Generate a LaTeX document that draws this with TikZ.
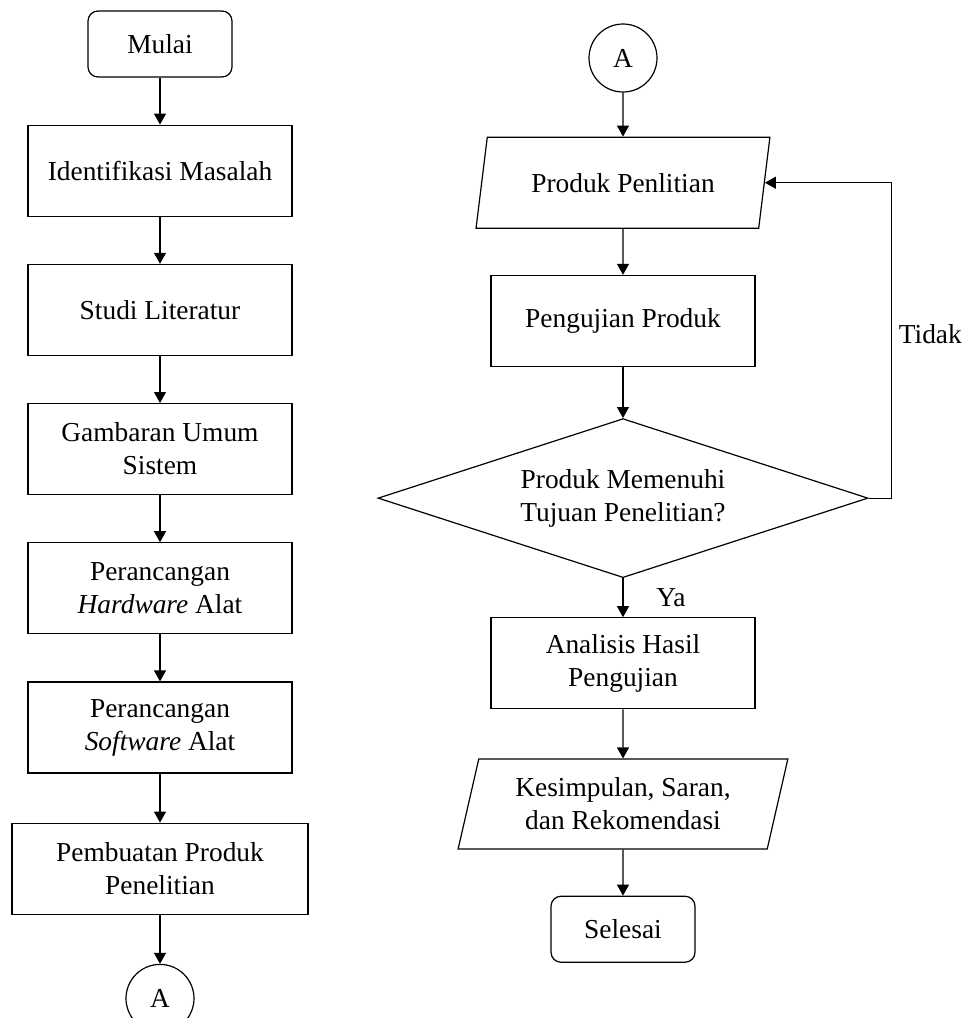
\documentclass[tikz,border=0pt]{standalone}
\usepackage{fontspec}
\setmainfont{Liberation Serif}
\usetikzlibrary{arrows.meta,positioning,shapes.geometric}

\begin{document}
\begin{tikzpicture}[
    font=\fontsize{13.7}{16.5}\selectfont,
    node distance=23.5pt,
    proses/.style={draw,line width=0.6pt,align=center,minimum width=132pt,minimum height=45.5pt},
    terminal/.style={draw,line width=0.6pt,rounded corners=5pt,align=center,minimum width=72pt,minimum height=33pt},
    masukan/.style={draw,line width=0.6pt,trapezium,trapezium left angle=76,trapezium right angle=104,trapezium stretches=true,align=center,minimum height=45.5pt},
    keputusan/.style={draw,line width=0.6pt,diamond,aspect=3.08,align=center,minimum width=245pt,minimum height=79.5pt,inner sep=0pt},
    konektor/.style={draw,line width=0.6pt,circle,minimum size=34pt,inner sep=0pt},
    line/.style={-{Triangle[length=5.5pt,width=6pt]},line width=0.6pt}
]
    \useasboundingbox (0,0) rectangle (484pt,-509pt);

    % kolom kiri
    \node[terminal] (mulai) at (80pt,-22pt) {Mulai};
    \node[proses,below=of mulai] (identifikasi) {Identifikasi Masalah};
    \node[proses,below=of identifikasi] (studi) {Studi Literatur};
    \node[proses,below=of studi] (gambaran) {Gambaran Umum\\Sistem};
    \node[proses,below=of gambaran] (hardware) {Perancangan\\\textit{Hardware} Alat};
    \node[proses,below=of hardware] (software) {Perancangan\\\textit{Software} Alat};
    \node[proses,below=24.5pt of software,minimum width=148pt] (pembuatan) {Pembuatan Produk\\Penelitian};
    \node[konektor,below=24.5pt of pembuatan] (a1) {A};

    % kolom kanan
    \node[konektor] (a2) at (311.5pt,-29pt) {A};
    \node[masukan,below=22pt of a2,minimum width=147pt] (produk) {Produk Penlitian};
    \node[proses,below=23pt of produk] (pengujian) {Pengujian Produk};
    \node[keputusan,below=25.5pt of pengujian] (cek) {Produk Memenuhi\\Tujuan Penelitian?};
    \node[proses,below=19.5pt of cek] (analisis) {Analisis Hasil\\Pengujian};
    \node[masukan,below=24.5pt of analisis,minimum width=165pt,minimum height=45pt] (kesimpulan) {Kesimpulan, Saran,\\dan Rekomendasi};
    \node[terminal,below=23pt of kesimpulan] (selesai) {Selesai};

    \draw[line] (mulai)--(identifikasi);
    \draw[line] (identifikasi)--(studi);
    \draw[line] (studi)--(gambaran);
    \draw[line] (gambaran)--(hardware);
    \draw[line] (hardware)--(software);
    \draw[line] (software)--(pembuatan);
    \draw[line] (pembuatan)--(a1);

    \draw[line] (a2)--(produk);
    \draw[line] (produk)--(pengujian);
    \draw[line] (pengujian)--(cek);
    \draw[line] (cek)--node[right=13pt]{Ya}(analisis);
    \draw[line] (analisis)--(kesimpulan);
    \draw[line] (kesimpulan)--(selesai);
    \draw[line] (cek.east) -- ++(11.5pt,0) |- node[pos=0.26,right]{Tidak} (produk.east);
\end{tikzpicture}
\end{document}
